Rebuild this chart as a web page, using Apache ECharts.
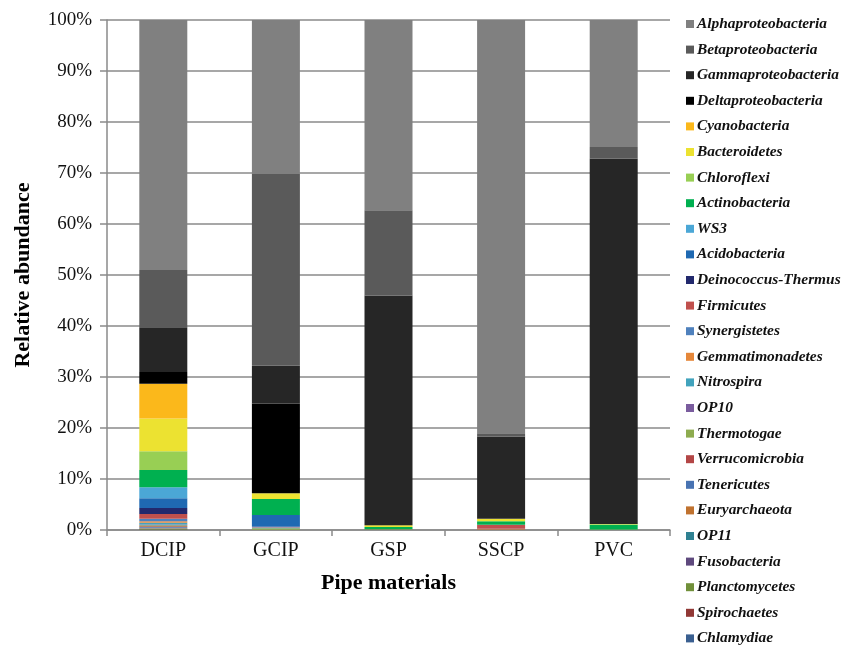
<!DOCTYPE html>
<html>
<head>
<meta charset="utf-8">
<script src="https://cdn.jsdelivr.net/npm/echarts@6/dist/echarts.min.js"></script>
<style>html,body{margin:0;padding:0;background:#fff;}#chart{width:841px;height:646px;}</style>
</head>
<body>
<div id="chart"></div>
<script>
// Categories (pipe materials)
const categories = ['DCIP', 'GCIP', 'GSP', 'SSCP', 'PVC'];
// Y-axis tick labels are percentages 0..100 by 10
const yTicks = [0, 10, 20, 30, 40, 50, 60, 70, 80, 90, 100];

// Taxa in legend order (top of legend = top of stack)
const taxa = ['Alphaproteobacteria','Betaproteobacteria','Gammaproteobacteria','Deltaproteobacteria','Cyanobacteria','Bacteroidetes','Chloroflexi','Actinobacteria','WS3','Acidobacteria','Deinococcus-Thermus','Firmicutes','Synergistetes','Gemmatimonadetes','Nitrospira','OP10','Thermotogae','Verrucomicrobia','Tenericutes','Euryarchaeota','OP11','Fusobacteria','Planctomycetes','Spirochaetes','Chlamydiae'];

// Relative abundance (%) per taxon, for DCIP, GCIP, GSP, SSCP, PVC
const Alphaproteobacteria = [49.04, 30.2, 37.3, 81.03, 24.9];
const Betaproteobacteria  = [11.2, 37.6, 16.7, 0.66, 2.3];
const Gammaproteobacteria = [8.8, 7.4, 45.0, 16.1, 71.6];
const Deltaproteobacteria = [2.3, 17.6, 0.05, 0, 0];
const Cyanobacteria       = [6.8, 0, 0, 0, 0];
const Bacteroidetes       = [6.4, 1.1, 0.35, 0.5, 0.1];
const Chloroflexi         = [3.7, 0, 0, 0, 0];
const Actinobacteria      = [3.4, 3.16, 0.45, 0.66, 1.0];
const WS3                 = [2.15, 0, 0, 0, 0];
const Acidobacteria       = [1.9, 2.29, 0, 0, 0];
const DeinococcusThermus  = [1.17, 0, 0, 0, 0];
const Firmicutes          = [0.94, 0.1, 0.05, 0.8, 0];
const Synergistetes       = [0.5, 0.1, 0, 0.05, 0];
const Gemmatimonadetes    = [0.3, 0.05, 0, 0.05, 0];
const Nitrospira          = [0.3, 0.05, 0, 0, 0];
const OP10                = [0.15, 0, 0, 0, 0];
const Thermotogae         = [0.2, 0.3, 0.1, 0.05, 0.1];
const Verrucomicrobia     = [0.15, 0.05, 0, 0.1, 0];
const Tenericutes         = [0.15, 0, 0, 0, 0];
const Euryarchaeota       = [0.1, 0, 0, 0, 0];
const OP11                = [0.05, 0, 0, 0, 0];
const Fusobacteria        = [0.05, 0, 0, 0, 0];
const Planctomycetes      = [0.15, 0, 0, 0, 0];
const Spirochaetes        = [0.05, 0, 0, 0, 0];
const Chlamydiae          = [0.05, 0, 0, 0, 0];

const values = [Alphaproteobacteria, Betaproteobacteria, Gammaproteobacteria, Deltaproteobacteria, Cyanobacteria, Bacteroidetes, Chloroflexi, Actinobacteria, WS3, Acidobacteria, DeinococcusThermus, Firmicutes, Synergistetes, Gemmatimonadetes, Nitrospira, OP10, Thermotogae, Verrucomicrobia, Tenericutes, Euryarchaeota, OP11, Fusobacteria, Planctomycetes, Spirochaetes, Chlamydiae];

const colors = ['#808080','#5a5a5a','#262626','#000000','#fbb81b','#ece231','#98cf54','#00b050','#4ba7d6','#1f69b2','#22296d','#c0504d','#4f81bd','#e5873a','#41a3bd','#7a5c9e','#8eac4f','#b34646','#4873b2','#c0722f','#2f8192','#5e497d','#71903a','#913835','#3a5f90'];

const series = [];
for (let i = taxa.length - 1; i >= 0; i--) {
  series.push({
    name: taxa[i],
    type: 'bar',
    stack: 'total',
    barWidth: 48,
    data: values[i],
    itemStyle: { color: colors[i] },
    emphasis: { disabled: true }
  });
}

const chart = echarts.init(document.getElementById('chart'), null, { renderer: 'canvas' });
chart.setOption({
  animation: false,
  backgroundColor: '#ffffff',
  grid: { left: 107, right: 171, top: 20, bottom: 116 },
  legend: {
    data: taxa,
    orient: 'vertical',
    left: 686,
    top: 16.5,
    height: 640,
    padding: 0,
    itemWidth: 8,
    itemHeight: 8,
    itemGap: 10.6,
    icon: 'rect',
    textStyle: { fontFamily: 'Liberation Serif', fontStyle: 'italic', fontWeight: 'bold', fontSize: 15.4, lineHeight: 15, color: '#111', padding: [0, 0, 0, -2] },
    selectedMode: false
  },
  xAxis: {
    type: 'category',
    data: categories,
    name: 'Pipe materials',
    nameLocation: 'middle',
    nameGap: 42,
    nameTextStyle: { fontFamily: 'Liberation Serif', fontWeight: 'bold', fontSize: 22, color: '#000' },
    axisLine: { lineStyle: { color: '#8a8a8a', width: 1.5 } },
    axisTick: { show: true, length: 6, lineStyle: { color: '#8a8a8a', width: 1.5 } },
    axisLabel: { fontFamily: 'Liberation Serif', fontSize: 20, color: '#111', margin: 11 }
  },
  yAxis: {
    type: 'value',
    min: yTicks[0],
    max: yTicks[yTicks.length - 1],
    interval: 10,
    name: 'Relative abundance',
    nameLocation: 'middle',
    nameGap: 73,
    nameTextStyle: { fontFamily: 'Liberation Serif', fontWeight: 'bold', fontSize: 22, color: '#000' },
    axisLine: { show: true, lineStyle: { color: '#8a8a8a', width: 1.5 } },
    axisTick: { show: true, length: 7, lineStyle: { color: '#8a8a8a', width: 1.5 } },
    splitLine: { show: true, lineStyle: { color: '#8a8a8a', width: 1.5 } },
    axisLabel: { fontFamily: 'Liberation Serif', fontSize: 19, color: '#111', margin: 15, formatter: '{value}%' }
  },
  series: series
});
</script>
</body>
</html>
